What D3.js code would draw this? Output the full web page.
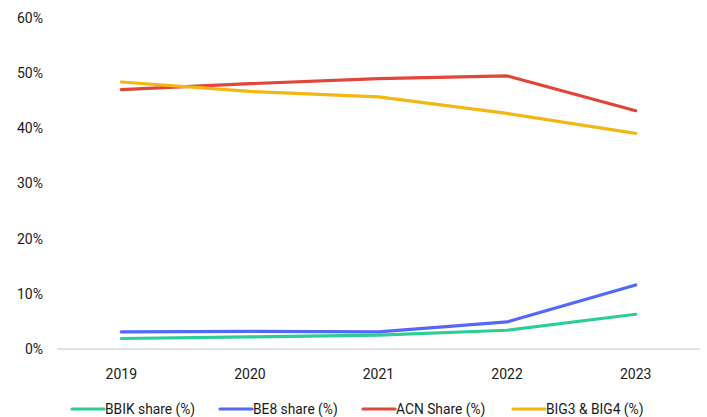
<!DOCTYPE html>
<html>
<head>
<meta charset="utf-8">
<script src="https://cdn.jsdelivr.net/npm/d3@7"></script>
<style>
  html, body { margin: 0; padding: 0; background: #fff; }
  svg { display: block; font-family: Roboto, "Liberation Sans", sans-serif; }
</style>
</head>
<body>
<div id="chart"></div>
<script>
// Data
const years = ["2019", "2020", "2021", "2022", "2023"];
const bbikShare = [1.9, 2.2, 2.5, 3.4, 6.3];
const be8Share = [3.1, 3.2, 3.1, 4.9, 11.6];
const acnShare = [47.0, 48.1, 49.0, 49.5, 43.2];
const bigShare = [48.4, 46.7, 45.7, 42.7, 39.1];
const yTicks = [0, 10, 20, 30, 40, 50, 60];

const seriesNames = ["BBIK share (%)", "BE8 share (%)", "ACN Share (%)", "BIG3 & BIG4 (%)"];
const seriesColors = ["#2ccf93", "#5468f7", "#e0463a", "#f3b713"];

const series = [bbikShare, be8Share, acnShare, bigShare].map((vals, i) => ({
    name: seriesNames[i],
    color: seriesColors[i],
    values: vals.map((v, j) => ({ year: years[j], value: v }))
}));

// Layout
const W = 707, H = 417;
const margin = { top: 18, right: 7, bottom: 68, left: 57 };

const svg = d3.select("#chart").append("svg")
    .attr("width", W)
    .attr("height", H);

const x = d3.scalePoint()
    .domain(years)
    .range([margin.left, W - margin.right])
    .padding(0.5);

const y = d3.scaleLinear()
    .domain([0, 60])
    .range([H - margin.bottom, margin.top]);

// Y axis labels (no axis line)
svg.append("g")
    .selectAll("text")
    .data(yTicks)
    .join("text")
    .attr("x", 43)
    .attr("y", d => y(d))
    .attr("dy", "0.35em")
    .attr("text-anchor", "end")
    .attr("font-size", "14px")
    .attr("fill", "#1a1a1a")
    .text(d => d + "%");

// Baseline
svg.append("line")
    .attr("x1", margin.left)
    .attr("x2", W - margin.right)
    .attr("y1", y(0))
    .attr("y2", y(0))
    .attr("stroke", "#d9d9d9")
    .attr("stroke-width", 1.5);

// X axis labels
svg.append("g")
    .selectAll("text")
    .data(years)
    .join("text")
    .attr("x", d => x(d))
    .attr("y", y(0) + 25)
    .attr("dy", "0.35em")
    .attr("text-anchor", "middle")
    .attr("font-size", "14px")
    .attr("fill", "#1a1a1a")
    .text(d => d);

// Lines
const line = d3.line()
    .x(d => x(d.year))
    .y(d => y(d.value));

svg.append("g")
    .selectAll("path")
    .data(series)
    .join("path")
    .attr("d", d => line(d.values))
    .attr("fill", "none")
    .attr("stroke", d => d.color)
    .attr("stroke-width", 3.2)
    .attr("stroke-linecap", "round")
    .attr("stroke-linejoin", "round");

// Legend
const legendX = [72, 220, 363, 513];
const legend = svg.append("g")
    .selectAll("g")
    .data(series)
    .join("g")
    .attr("transform", (d, i) => `translate(${legendX[i]}, 409)`);

legend.append("line")
    .attr("x1", 0)
    .attr("x2", 32)
    .attr("stroke", d => d.color)
    .attr("stroke-width", 3.2)
    .attr("stroke-linecap", "round");

legend.append("text")
    .attr("x", 33)
    .attr("dy", "0.35em")
    .attr("font-size", "13.8px")
    .attr("fill", "#1a1a1a")
    .text(d => d.name);
</script>
</body>
</html>
